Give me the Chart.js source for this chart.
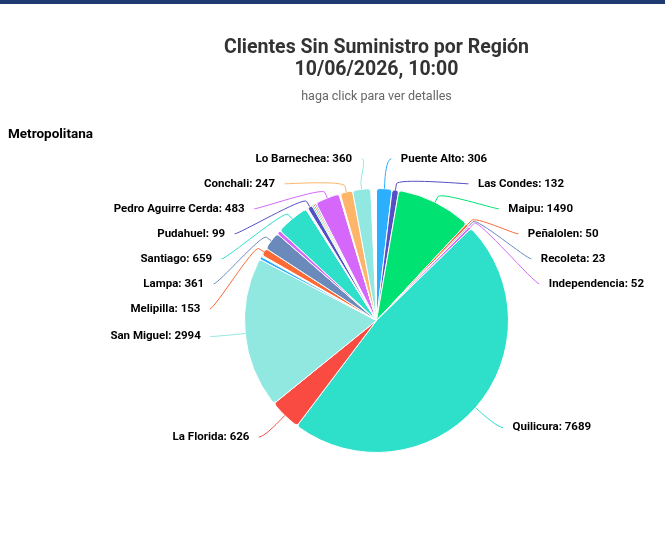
<!DOCTYPE html>
<html>
<head>
<meta charset="utf-8">
<script src="https://cdn.jsdelivr.net/npm/chart.js@4.4.1/dist/chart.umd.min.js"></script>
<style>
  html, body { margin: 0; padding: 0; background: #fff; }
  #contenedor { width: 665px; height: 534px; position: relative; }
</style>
</head>
<body>
<div id="contenedor"><canvas id="grafico"></canvas></div>
<script>
// datos; las rebanadas con nombre vacio son astillas sin etiqueta visible
const comunas = ['Puente Alto', 'Las Condes', 'Maipu', 'Peñalolen', 'Recoleta', 'Independencia',
  'Quilicura', 'La Florida', 'San Miguel', '', '', '', 'Melipilla', 'Lampa', '', 'Santiago',
  '', '', '', '', 'Pudahuel', '', '', '', 'Pedro Aguirre Cerda', '', '', 'Conchali',
  'Lo Barnechea', ''];
const clientes = [306, 132, 1490, 50, 23, 52,
  7689, 626, 2994, 60, 15, 15, 153, 361, 80, 659,
  10, 10, 10, 10, 99, 30, 30, 30, 483, 15, 10, 247,
  360, 110];
const colores = ['#2caffe', '#544fc5', '#00e272', '#fe6a35', '#6b8abc', '#d568fb',
  '#2ee0ca', '#fa4b42', '#91e8e1', '#2caffe', '#544fc5', '#00e272', '#fe6a35', '#6b8abc', '#d568fb', '#2ee0ca',
  '#fa4b42', '#feb56a', '#91e8e1', '#2caffe', '#544fc5', '#00e272', '#fe6a35', '#6b8abc', '#d568fb', '#2ee0ca', '#fa4b42', '#feb56a',
  '#91e8e1', '#ffffff'];

const titulo = ['Clientes Sin Suministro por Región', '10/06/2026, 10:00'];
const subtitulo = 'haga click para ver detalles';
const region = 'Metropolitana';
const fuente = 'Roboto, "Open Sans", sans-serif';

const textos = {
  id: 'textos',
  beforeDraw(chart) {
    const ctx = chart.ctx;
    const cx = (chart.chartArea.left + chart.chartArea.right) / 2;
    ctx.save();
    ctx.fillStyle = '#1f3a70';
    ctx.fillRect(0, 0, chart.width, 4);
    ctx.textAlign = 'center';
    ctx.textBaseline = 'alphabetic';
    ctx.fillStyle = '#333333';
    ctx.font = 'bold 19.5px ' + fuente;
    ctx.fillText(titulo[0], cx, 53);
    ctx.fillText(titulo[1], cx, 75);
    ctx.fillStyle = '#666666';
    ctx.font = '12.5px ' + fuente;
    ctx.fillText(subtitulo, cx, 100);
    ctx.textAlign = 'left';
    ctx.fillStyle = '#000000';
    ctx.font = 'bold 13.5px ' + fuente;
    ctx.fillText(region, 8, 138);
    ctx.restore();
  }
};

// reparte las etiquetas de un lado sin que se encimen
function repartir(items, min, max, alto) {
  items.sort((a, b) => a.target - b.target);
  let grupos = items.map(it => [it]);
  let pos = [];
  let cambio = true;
  while (cambio) {
    cambio = false;
    pos = grupos.map(g => {
      let m = 0;
      g.forEach((it, k) => { m += it.target - k * alto; });
      m /= g.length;
      return Math.min(Math.max(m, min), max - (g.length - 1) * alto);
    });
    for (let k = 0; k < grupos.length - 1; k++) {
      if (pos[k] + grupos[k].length * alto > pos[k + 1]) {
        grupos.splice(k, 2, grupos[k].concat(grupos[k + 1]));
        cambio = true;
        break;
      }
    }
  }
  grupos.forEach((g, k) => g.forEach((it, j) => { it.y = pos[k] + j * alto; }));
}

const etiquetas = {
  id: 'etiquetas',
  afterDatasetsDraw(chart) {
    const ctx = chart.ctx;
    const arcos = chart.getDatasetMeta(0).data;
    if (!arcos.length) return;
    const p0 = arcos[0].getProps(['x', 'y', 'outerRadius'], true);
    const cx = p0.x, cy = p0.y, r = p0.outerRadius;
    const R = r + 30, alto = 25;
    const izq = [], der = [];
    arcos.forEach((arco, i) => {
      if (!comunas[i]) return;
      const p = arco.getProps(['startAngle', 'endAngle'], true);
      const mid = (p.startAngle + p.endAngle) / 2;
      const item = { i, c: Math.cos(mid), s: Math.sin(mid), target: cy + Math.sin(mid) * R };
      (item.c < 0 ? izq : der).push(item);
    });
    repartir(izq, cy - R + 0.3, cy + R - 0.3, alto);
    repartir(der, cy - R + 0.3, cy + R - 0.3, alto);

    ctx.save();
    ctx.lineWidth = 1;
    ctx.font = 'bold 11.5px ' + fuente;
    ctx.textBaseline = 'middle';
    [[izq, -1], [der, 1]].forEach(([lista, lado]) => {
      lista.forEach(it => {
        const dy = Math.min(Math.max((it.y - cy) / R, -1), 1);
        const ax = cx + lado * (Math.cos(Math.asin(dy)) * R + 5);
        const tx = cx + it.c * r, ty = cy + it.s * r;
        const bx = cx + it.c * (r + 6), by = cy + it.s * (r + 6);
        ctx.strokeStyle = colores[it.i];
        ctx.beginPath();
        ctx.moveTo(ax, it.y);
        ctx.bezierCurveTo(ax - lado * 5, it.y, 2 * bx - tx, 2 * by - ty, bx, by);
        ctx.lineTo(tx, ty);
        ctx.stroke();
        ctx.fillStyle = '#000000';
        ctx.textAlign = lado > 0 ? 'left' : 'right';
        ctx.fillText(comunas[it.i] + ': ' + clientes[it.i], ax + lado * 9.5, it.y);
      });
    });
    ctx.restore();
  }
};

new Chart(document.getElementById('grafico'), {
  type: 'pie',
  data: {
    labels: comunas,
    datasets: [{
      data: clientes,
      backgroundColor: colores,
      borderColor: '#ffffff',
      borderWidth: 1,
      borderRadius: 3
    }]
  },
  options: {
    responsive: true,
    maintainAspectRatio: false,
    animation: false,
    layout: { padding: { left: 244, right: 156, top: 188, bottom: 81 } },
    plugins: {
      legend: { display: false },
      title: { display: false }
    }
  },
  plugins: [textos, etiquetas]
});
</script>
</body>
</html>
